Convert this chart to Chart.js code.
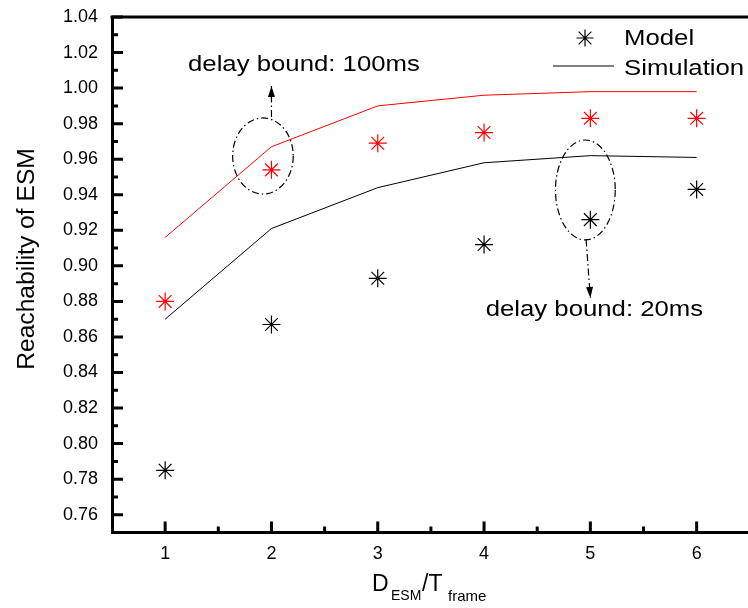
<!DOCTYPE html>
<html>
<head>
<meta charset="utf-8">
<script src="https://cdn.jsdelivr.net/npm/chart.js@4/dist/chart.umd.min.js"></script>
<style>
  html, body { margin: 0; padding: 0; background: #fff; overflow: hidden; }
  #wrap { width: 760px; height: 608px; }
</style>
</head>
<body>
<div id="wrap"><canvas id="c"></canvas></div>
<script>
// D_ESM / T_frame
const xValues = [1, 2, 3, 4, 5, 6];

// delay bound 100 ms (red)
const model100 = [0.880, 0.954, 0.969, 0.975, 0.983, 0.983];
const sim100   = [0.916, 0.967, 0.990, 0.996, 0.998, 0.998];

// delay bound 20 ms (black)
const model20  = [0.785, 0.867, 0.893, 0.912, 0.926, 0.943];
const sim20    = [0.870, 0.921, 0.944, 0.958, 0.962, 0.961];

const yTicks      = [0.76, 0.78, 0.80, 0.82, 0.84, 0.86, 0.88, 0.90, 0.92, 0.94, 0.96, 0.98, 1.00, 1.02, 1.04];
const yMinorTicks = [0.77, 0.79, 0.81, 0.83, 0.85, 0.87, 0.89, 0.91, 0.93, 0.95, 0.97, 0.99, 1.01, 1.03];
const xTicks      = [1, 2, 3, 4, 5, 6];
const xMinorTicks = [1.5, 2.5, 3.5, 4.5, 5.5];

const FONT = "'Liberation Sans', Arial, sans-serif";

const pts = (ys) => xValues.map((x, i) => ({ x: x, y: ys[i] }));

// callouts in data units
const callouts = [
  { ellipse: { x: 1.92, y: 0.9618, rx: 0.285, ry: 0.0214 },
    arrow: { x0: 2.0, y0: 0.9837, x1: 2.0, y1: 1.0012 },
    text: { label: 'delay bound: 100ms', x: 1.215, y: 1.0096 } },
  { ellipse: { x: 4.953, y: 0.9427, rx: 0.281, ry: 0.0281 },
    arrow: { x0: 4.96, y0: 0.9148, x1: 5.0, y1: 0.8819 },
    text: { label: 'delay bound: 20ms', x: 4.015, y: 0.8718 } }
];

function wideText(ctx, txt, x, y, size, sx) {
  ctx.save();
  ctx.translate(x, y);
  ctx.scale(sx, 1);
  ctx.font = size + 'px ' + FONT;
  ctx.textBaseline = 'alphabetic';
  ctx.textAlign = 'left';
  ctx.fillStyle = '#000';
  ctx.fillText(txt, 0, 0);
  ctx.restore();
}

function arrowHead(ctx, x0, y0, x1, y1) {
  const a = Math.atan2(y1 - y0, x1 - x0);
  const len = 11, half = 3.5;
  ctx.beginPath();
  ctx.moveTo(x1, y1);
  ctx.lineTo(x1 - len * Math.cos(a) + half * Math.sin(a), y1 - len * Math.sin(a) - half * Math.cos(a));
  ctx.lineTo(x1 - len * Math.cos(a) - half * Math.sin(a), y1 - len * Math.sin(a) + half * Math.cos(a));
  ctx.closePath();
  ctx.fill();
}

function noScalePadding(s) {
  s.paddingTop = 0; s.paddingBottom = 0; s.paddingLeft = 0; s.paddingRight = 0;
}

const framePlugin = {
  id: 'frame',
  afterDraw(chart) {
    const ctx = chart.ctx;
    const xs = chart.scales.x, ys = chart.scales.y;
    const { left, right, top, bottom } = chart.chartArea;
    ctx.save();
    ctx.strokeStyle = '#000';
    ctx.fillStyle = '#000';

    // top frame line
    ctx.lineWidth = 3;
    ctx.beginPath();
    ctx.moveTo(left - 1.5, top);
    ctx.lineTo(right + 2, top);
    ctx.stroke();

    // inward tick marks
    ctx.lineWidth = 3;
    ctx.lineCap = 'butt';
    ctx.beginPath();
    yTicks.forEach(v => { const y = ys.getPixelForValue(v); ctx.moveTo(left, y); ctx.lineTo(left + 11, y); });
    yMinorTicks.forEach(v => { const y = ys.getPixelForValue(v); ctx.moveTo(left, y); ctx.lineTo(left + 6, y); });
    xTicks.forEach(v => { const x = xs.getPixelForValue(v); ctx.moveTo(x, bottom); ctx.lineTo(x, bottom - 11); });
    xMinorTicks.forEach(v => { const x = xs.getPixelForValue(v); ctx.moveTo(x, bottom); ctx.lineTo(x, bottom - 6); });
    ctx.stroke();

    // callouts
    callouts.forEach(c => {
      const e = c.ellipse;
      const cx = xs.getPixelForValue(e.x), cy = ys.getPixelForValue(e.y);
      const rx = xs.getPixelForValue(e.x + e.rx) - cx;
      const ry = cy - ys.getPixelForValue(e.y + e.ry);
      ctx.lineWidth = 1.2;
      ctx.setLineDash([7, 3, 1.5, 3]);
      ctx.beginPath();
      ctx.ellipse(cx, cy, rx, ry, 0, 0, Math.PI * 2);
      ctx.stroke();

      const a = c.arrow;
      const ax0 = xs.getPixelForValue(a.x0), ay0 = ys.getPixelForValue(a.y0);
      const ax1 = xs.getPixelForValue(a.x1), ay1 = ys.getPixelForValue(a.y1);
      ctx.beginPath();
      ctx.moveTo(ax0, ay0);
      ctx.lineTo(ax1, ay1);
      ctx.stroke();
      ctx.setLineDash([]);
      arrowHead(ctx, ax0, ay0, ax1, ay1);

      const t = c.text;
      wideText(ctx, t.label, xs.getPixelForValue(t.x), ys.getPixelForValue(t.y), 22, 1.17);
    });

    // legend
    ctx.setLineDash([]);
    ctx.lineWidth = 1.2;
    const sx = 585, sy = 38, r = 8.5;
    ctx.beginPath();
    ctx.moveTo(sx - r, sy); ctx.lineTo(sx + r, sy);
    ctx.moveTo(sx, sy - r); ctx.lineTo(sx, sy + r);
    const d = r * 0.75;
    ctx.moveTo(sx - d, sy - d); ctx.lineTo(sx + d, sy + d);
    ctx.moveTo(sx - d, sy + d); ctx.lineTo(sx + d, sy - d);
    ctx.stroke();
    wideText(ctx, 'Model', 624, 45, 22, 1.17);
    ctx.lineWidth = 1;
    ctx.beginPath();
    ctx.moveTo(553, 66); ctx.lineTo(614, 66);
    ctx.stroke();
    wideText(ctx, 'Simulation', 624, 75, 22, 1.17);

    // y axis title
    ctx.save();
    ctx.translate(33.5, 259);
    ctx.rotate(-Math.PI / 2);
    ctx.scale(1.07, 1);
    ctx.font = '23px ' + FONT;
    ctx.textAlign = 'center';
    ctx.textBaseline = 'alphabetic';
    ctx.fillText('Reachability of ESM', 0, 0);
    ctx.restore();

    // x axis title: D_ESM / T_frame
    ctx.textAlign = 'left';
    ctx.textBaseline = 'alphabetic';
    ctx.font = '23px ' + FONT;
    ctx.fillText('D', 372, 591);
    ctx.font = '14px ' + FONT;
    ctx.fillText('ESM', 391, 600);
    ctx.font = '23px ' + FONT;
    ctx.fillText('/T', 422, 591);
    ctx.font = '15px ' + FONT;
    ctx.fillText('frame', 448, 601);

    ctx.restore();
  }
};

new Chart(document.getElementById('c'), {
  type: 'scatter',
  data: {
    datasets: [
      { label: 'Model 100ms', data: pts(model100), showLine: false,
        pointStyle: 'star', pointRadius: 9, pointHoverRadius: 9,
        borderColor: '#ff0000', backgroundColor: '#ff0000', pointBorderWidth: 1.2 },
      { label: 'Simulation 100ms', data: pts(sim100), showLine: true, pointRadius: 0,
        borderColor: '#ff0000', borderWidth: 1, tension: 0 },
      { label: 'Model 20ms', data: pts(model20), showLine: false,
        pointStyle: 'star', pointRadius: 9, pointHoverRadius: 9,
        borderColor: '#000000', backgroundColor: '#000000', pointBorderWidth: 1.2 },
      { label: 'Simulation 20ms', data: pts(sim20), showLine: true, pointRadius: 0,
        borderColor: '#000000', borderWidth: 1, tension: 0 }
    ]
  },
  options: {
    responsive: true,
    maintainAspectRatio: false,
    devicePixelRatio: 1,
    animation: false,
    layout: { padding: { left: 0, top: 17, right: 7.6, bottom: 0 } },
    plugins: { legend: { display: false }, tooltip: { enabled: false } },
    scales: {
      x: {
        type: 'linear',
        min: 0.5, max: 6.5,
        afterBuildTicks: s => { s.ticks = xTicks.map(v => ({ value: v })); },
        afterFit: s => { s.height = 75.5; noScalePadding(s); },
        grid: { display: true, drawOnChartArea: false, drawTicks: false },
        border: { display: true, width: 3, color: '#000' },
        ticks: { padding: 11, color: '#000', font: { family: FONT, size: 18 },
                 callback: v => String(v) }
      },
      y: {
        type: 'linear',
        min: 0.75, max: 1.04,
        afterBuildTicks: s => { s.ticks = yTicks.map(v => ({ value: v })); },
        afterFit: s => { s.width = 112; noScalePadding(s); },
        grid: { display: true, drawOnChartArea: false, drawTicks: false },
        border: { display: true, width: 3, color: '#000' },
        ticks: { padding: 14, color: '#000', font: { family: FONT, size: 18 },
                 callback: v => Number(v).toFixed(2) }
      }
    }
  },
  plugins: [framePlugin]
});
</script>
</body>
</html>
